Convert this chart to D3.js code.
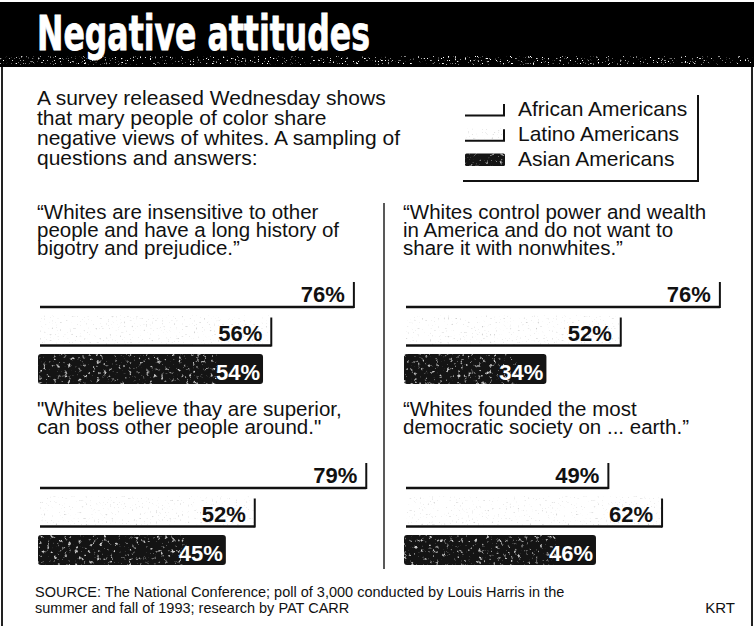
<!DOCTYPE html>
<html>
<head>
<meta charset="utf-8">
<script src="https://cdn.jsdelivr.net/npm/d3@7"></script>
<style>
  body { margin: 0; background: #fff; }
  .body-text { font-family: "Liberation Sans", Arial, Helvetica, sans-serif; fill: #111; }
  .pct { font-family: "Liberation Sans", Arial, sans-serif; font-weight: bold; }
</style>
</head>
<body>
<div id="chart"></div>
<script>

var groups = ["African Americans", "Latino Americans", "Asian Americans"]

// one entry per question: top-left, top-right, bottom-left, bottom-right
var africanValues = [76, 76, 79, 49]
var latinoValues = [56, 52, 52, 62]
var asianValues = [54, 34, 45, 46]

var questionLines = [
  ["\u201cWhites are insensitive to other", "people and have a long history of", "bigotry and prejudice.\u201d"],
  ["\u201cWhites control power and wealth", "in America and do not want to", "share it with nonwhites.\u201d"],
  ["\"Whites believe thay are superior,", "can boss other people around.\""],
  ["\u201cWhites founded the most", "democratic society on ... earth.\u201d"]
]

var introLines = [
  "A survey released Wednesday shows",
  "that mary people of color share",
  "negative views of whites. A sampling of",
  "questions and answers:"
]

var sourceLines = [
  "SOURCE: The National Conference; poll of 3,000 conducted by Louis Harris in the",
  "summer and fall of 1993; research by PAT CARR"
]

var width = 754,
    height = 626

var svg = d3.select("#chart").append("svg")
    .attr("width", width)
    .attr("height", height)

/* textures */
var defs = svg.append("defs")

function speckle(id, freq, octaves, seed, gray, slope, cut) {
  var f = defs.append("filter").attr("id", id)
      .attr("x", 0).attr("y", 0).attr("width", 1).attr("height", 1)
  f.append("feTurbulence")
      .attr("type", "fractalNoise")
      .attr("baseFrequency", freq)
      .attr("numOctaves", octaves)
      .attr("seed", seed)
      .attr("result", "noise")
  f.append("feColorMatrix")
      .attr("in", "noise")
      .attr("type", "matrix")
      .attr("values", "0 0 0 0 " + gray + "  0 0 0 0 " + gray + "  0 0 0 0 " + gray + "  " + slope + " 0 0 0 " + cut)
      .attr("result", "spots")
  f.append("feComposite")
      .attr("in", "spots")
      .attr("in2", "SourceGraphic")
      .attr("operator", "in")
}
speckle("darkSpeckle", 0.28, 4, 3, 0.6, 5, -3.0)
speckle("lightSpeckle", 0.5, 3, 8, 0.6, 5, -3.3)
speckle("headSpeckle", 0.6, 3, 11, 1, 8, -5.2)

/* header band */
svg.append("rect")
    .attr("x", 0).attr("y", 2)
    .attr("width", width).attr("height", 65)
    .style("fill", "#000")

svg.append("rect")
    .attr("x", 0).attr("y", 56)
    .attr("width", width).attr("height", 9)
    .attr("filter", "url(#headSpeckle)")
    .style("fill", "#000")

svg.append("text")
    .text("Negative attitudes")
    .attr("x", 37)
    .attr("y", 50)
    .attr("textLength", 333)
    .attr("lengthAdjust", "spacingAndGlyphs")
    .style("font-family", "'Liberation Sans Narrow', 'DejaVu Sans Condensed', 'Arial Narrow', sans-serif")
    .style("font-weight", "bold")
    .style("font-size", "48px")
    .style("fill", "#fff")
    .style("stroke", "#fff")
    .style("stroke-width", 0.8)

/* frame */
var frame = [[2, 67, 2, height], [752, 67, 752, height]]
svg.selectAll(".frame")
  .data(frame)
  .enter().append("line")
    .attr("class", "frame")
    .attr("x1", function(d) { return d[0]; })
    .attr("y1", function(d) { return d[1]; })
    .attr("x2", function(d) { return d[2]; })
    .attr("y2", function(d) { return d[3]; })
    .style("stroke", "#222")
    .style("stroke-width", 2)

/* intro */
svg.append("text")
    .attr("class", "body-text")
    .style("font-size", "21px")
  .selectAll("tspan")
  .data(introLines)
  .enter().append("tspan")
    .attr("x", 37)
    .attr("y", function(d, i) { return 105 + i * 20; })
    .text(function(d) { return d; })

/* legend */
var legendY = d3.scaleBand()
    .domain(groups)
    .range([103, 166])
    .paddingInner(0.5)

var legend = svg.append("g").attr("class", "legend")

var legendRows = legend.selectAll(".legendRow")
  .data(groups)
  .enter().append("g")
    .attr("class", "legendRow")
    .attr("transform", function(d) { return "translate(0," + legendY(d) + ")"; })

legendRows.each(function(d, i) {
  var g = d3.select(this)
  var h = legendY.bandwidth()
  if (i == 2) {
    g.append("rect").attr("x", 465).attr("y", 0).attr("width", 40).attr("height", h)
        .attr("rx", 1.5).style("fill", "#151515")
    g.append("rect").attr("x", 465).attr("y", 0).attr("width", 40).attr("height", h)
        .attr("filter", "url(#darkSpeckle)").style("fill", "#000")
  } else {
    if (i == 1) {
      g.append("rect").attr("x", 465).attr("y", 0).attr("width", 40).attr("height", h)
          .attr("filter", "url(#lightSpeckle)").style("fill", "#000")
    }
    g.append("line").attr("x1", 465).attr("x2", 505).attr("y1", h).attr("y2", h)
        .style("stroke", "#111").style("stroke-width", 2)
    g.append("line").attr("x1", 504).attr("x2", 504).attr("y1", 1).attr("y2", h)
        .style("stroke", "#111").style("stroke-width", 2)
  }
  g.append("text")
      .attr("class", "body-text")
      .attr("x", 518)
      .attr("y", h)
      .style("font-size", "21px")
      .text(d)
})

legend.append("path")
    .attr("d", "M463,181H698V95")
    .style("fill", "none")
    .style("stroke", "#111")
    .style("stroke-width", 2)

/* panels */
var x = d3.scaleLinear()
    .domain([0, 100])
    .range([0, 413])

var panelX = [40, 406, 40, 406]
var panelTextY = [219, 219, 416, 416]
var panelBarBottom = [307, 307, 488, 488]
var lineStep = 18

var panels = svg.selectAll(".panel")
  .data(questionLines)
  .enter().append("g")
    .attr("class", "panel")

panels.each(function(lines, p) {
  var g = d3.select(this)
  var x0 = panelX[p]
  var ty = panelTextY[p]

  g.append("text")
      .attr("class", "body-text")
      .style("font-size", "20.5px")
    .selectAll("tspan")
    .data(lines)
    .enter().append("tspan")
      .attr("x", x0 - 3)
      .attr("y", function(d, i) { return ty + i * lineStep; })
      .text(function(d) { return d; })

  var firstBottom = panelBarBottom[p]
  var y = d3.scaleBand()
      .domain(groups)
      .range([firstBottom - 30, firstBottom - 30 + 107])
      .paddingInner(0.22)

  var vals = [africanValues[p], latinoValues[p], asianValues[p]]
  var bh = y.bandwidth()

  groups.forEach(function(grp, i) {
    var w = x(vals[i])
    var top = y(grp)
    var bottom = top + bh
    if (i == 2) {
      g.append("rect")
          .attr("x", x0 - 2).attr("y", top)
          .attr("width", w + 2).attr("height", bh)
          .attr("rx", 3)
          .style("fill", "#141414")
      g.append("rect")
          .attr("x", x0 - 2).attr("y", top)
          .attr("width", w * 0.8).attr("height", bh)
          .attr("filter", "url(#darkSpeckle)")
          .style("fill", "#000")
      g.append("text")
          .attr("class", "pct")
          .attr("x", x0 + w - 3)
          .attr("y", bottom - 4)
          .style("text-anchor", "end")
          .style("font-size", "22px")
          .style("fill", "#fff")
          .text(vals[i] + "%")
    } else {
      if (i == 1) {
        g.append("rect")
            .attr("x", x0).attr("y", top)
            .attr("width", w).attr("height", bh)
            .attr("filter", "url(#lightSpeckle)")
            .style("fill", "#000")
      }
      g.append("line")
          .attr("x1", x0).attr("x2", x0 + w)
          .attr("y1", bottom).attr("y2", bottom)
          .style("stroke", "#111")
          .style("stroke-width", 2.5)
      g.append("line")
          .attr("x1", x0 + w).attr("x2", x0 + w)
          .attr("y1", bottom - (i == 0 ? 25 : 28)).attr("y2", bottom + 1)
          .style("stroke", "#111")
          .style("stroke-width", 2)
      g.append("text")
          .attr("class", "pct")
          .attr("x", x0 + w - 9)
          .attr("y", bottom - 5)
          .style("text-anchor", "end")
          .style("font-size", "22px")
          .style("fill", "#111")
          .text(vals[i] + "%")
    }
  })
})

/* divider */
svg.append("line")
    .attr("x1", 384).attr("x2", 384)
    .attr("y1", 203).attr("y2", 569)
    .style("stroke", "#222")
    .style("stroke-width", 1.5)

/* source */
svg.append("text")
    .attr("class", "body-text")
    .style("font-size", "14.5px")
  .selectAll("tspan")
  .data(sourceLines)
  .enter().append("tspan")
    .attr("x", 35)
    .attr("y", function(d, i) { return 597 + i * 16; })
    .text(function(d) { return d; })

svg.append("text")
    .attr("class", "body-text")
    .attr("x", 735)
    .attr("y", 613)
    .style("text-anchor", "end")
    .style("font-size", "15px")
    .text("KRT")

</script>
</body>
</html>
